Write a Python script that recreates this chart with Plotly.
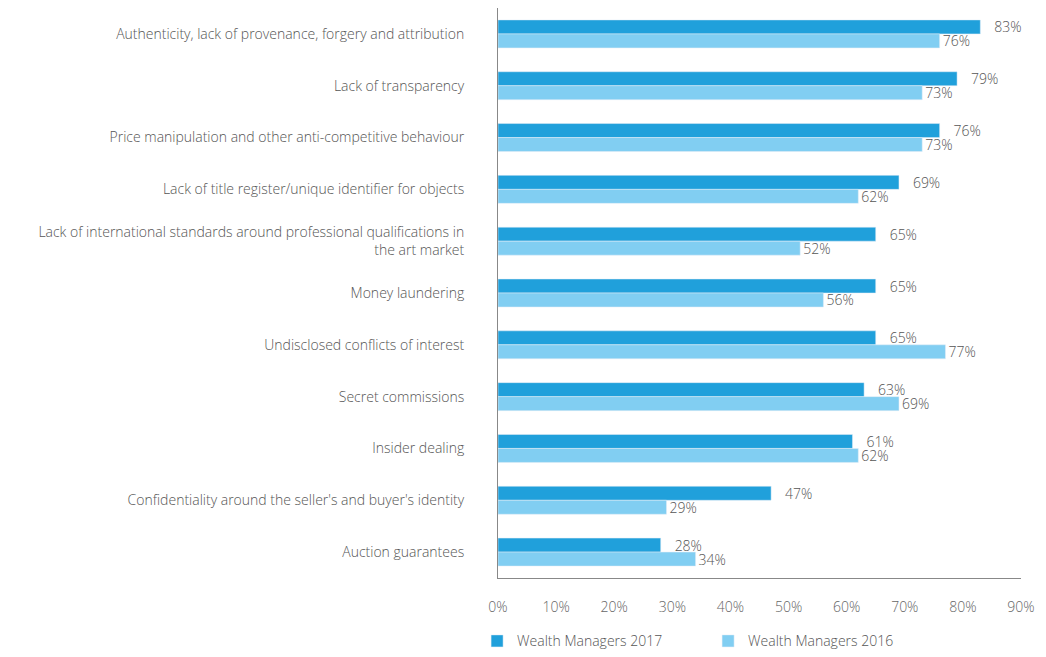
import plotly.graph_objects as go

# Issues ranked by wealth managers
categories = [
    "Authenticity, lack of provenance, forgery and attribution",
    "Lack of transparency",
    "Price manipulation and other anti-competitive behaviour",
    "Lack of title register/unique identifier for objects",
    "Lack of international standards around professional qualifications in<br>the art market",
    "Money laundering",
    "Undisclosed conflicts of interest",
    "Secret commissions",
    "Insider dealing",
    "Confidentiality around the seller's and buyer's identity",
    "Auction guarantees",
]
wm_2017 = [83, 79, 76, 69, 65, 65, 65, 63, 61, 47, 28]
wm_2016 = [76, 73, 73, 62, 52, 56, 77, 69, 62, 29, 34]
x_ticks = [0, 10, 20, 30, 40, 50, 60, 70, 80, 90]

FONT = "Open Sans"
TEXT = "#555555"
NB = "\u00a0"

fig = go.Figure()
fig.add_trace(go.Bar(
    y=categories, x=wm_2017, orientation="h",
    name="Wealth Managers 2017", marker_color="#20A0DB",
    text=[f"{NB * 3}{v}%" for v in wm_2017], textposition="outside",
    constraintext="none",
    textfont=dict(size=14, color=TEXT, family=FONT, weight=300), cliponaxis=False,
))
fig.add_trace(go.Bar(
    y=categories, x=wm_2016, orientation="h",
    name="Wealth Managers 2016", marker_color="#81CEF2",
    text=[f"{v}%" for v in wm_2016], textposition="outside",
    constraintext="none",
    textfont=dict(size=14, color=TEXT, family=FONT, weight=300), cliponaxis=False,
))

# page has an 8px body margin, so the figure is sized to fit without scrolling
fig.update_layout(
    barmode="group",
    bargap=0.46,
    bargroupgap=0,
    width=1030,
    height=641,
    margin=dict(l=490, r=17, t=0, b=71, autoexpand=False),
    plot_bgcolor="white",
    paper_bgcolor="white",
    font=dict(family=FONT, size=14, color=TEXT, weight=300),
    legend=dict(
        orientation="h", x=-0.04, xanchor="left", y=-0.083, yanchor="top",
        entrywidth=186, entrywidthmode="pixels",
        font=dict(size=14, color=TEXT, weight=300),
    ),
)

fig.update_xaxes(
    range=[0, 90], tickvals=x_ticks, ticktext=[f"{t}%" for t in x_ticks],
    showgrid=False, zeroline=False, showline=True, linecolor="#888888",
    linewidth=1, ticks="", ticklabelstandoff=16, automargin=False,
    ticklabeloverflow="allow",
    tickfont=dict(size=14, color="#666666", weight=300),
)
fig.update_yaxes(
    autorange="reversed", showgrid=False, showline=True,
    linecolor="#888888", linewidth=1, ticks="", ticklabelstandoff=30,
    automargin=False,
    tickfont=dict(size=14, color=TEXT, weight=300),
)

fig.write_html("out.html")
